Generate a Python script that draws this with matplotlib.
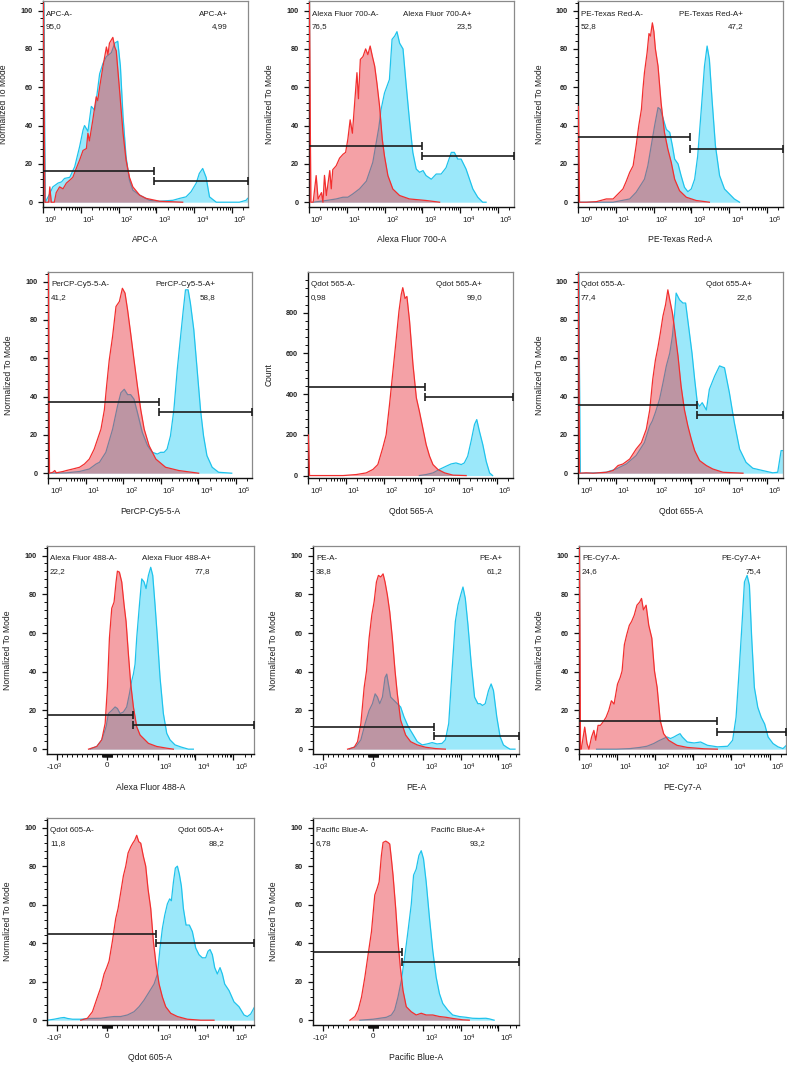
import numpy as np
import matplotlib
matplotlib.use("Agg")
import matplotlib.pyplot as plt
from matplotlib import transforms

plt.rcParams['font.family'] = ['Liberation Sans', 'DejaVu Sans']
plt.rcParams['mathtext.fontset'] = 'custom'
plt.rcParams['mathtext.rm'] = 'Liberation Sans'
plt.rcParams['mathtext.it'] = 'Liberation Sans:italic'
plt.rcParams['mathtext.bf'] = 'Liberation Sans:bold'

# ---------------- data (log panels: x given as log10 of intensity) ----------------
apc_red_log = [0.0, 0.01, 0.05, 0.15, 0.18, 0.22, 0.30, 0.35, 0.44, 0.53, 0.62, 0.71, 0.79, 0.88, 0.97, 1.06, 1.15, 1.19, 1.23, 1.32, 1.41, 1.45, 1.50, 1.59, 1.68, 1.72, 1.76, 1.85, 1.90, 1.94, 2.03, 2.12, 2.20, 2.29, 2.38, 2.56, 2.73, 3.09, 3.70]
apc_red_y = [104, 104, 0, 0, 8, 0, 0, 5, 8, 7, 10, 11.5, 13, 17.6, 22, 27, 28, 36, 32, 43, 55, 53, 60, 71, 81, 77, 83, 86, 81, 79, 58, 36, 22, 13, 8, 3.7, 2, 0.5, 0]
apc_blue_log = [0.0, 0.02, 0.06, 0.18, 0.26, 0.40, 0.49, 0.57, 0.71, 0.84, 0.97, 1.06, 1.10, 1.19, 1.28, 1.37, 1.41, 1.50, 1.59, 1.68, 1.81, 1.90, 1.98, 2.05, 2.12, 2.20, 2.29, 2.38, 2.56, 2.82, 3.09, 3.44, 3.62, 3.79, 3.92, 4.06, 4.14, 4.23, 4.32, 4.41, 4.59, 5.20, 5.38, 5.42]
apc_blue_y = [104, 104, 0, 4.5, 8, 10, 10.6, 12.4, 13, 18.5, 29, 37.6, 40, 37, 50, 48, 53, 67, 72.5, 76, 78, 83, 84, 71, 44.6, 23.7, 11.5, 6.3, 3.7, 1, 0.5, 1, 2, 2.8, 5.4, 10, 15, 17.6, 13, 2.8, 0, 0, 1, 2]

a700_red_log = [0.0, 0.01, 0.05, 0.11, 0.19, 0.24, 0.33, 0.37, 0.41, 0.46, 0.55, 0.59, 0.63, 0.72, 0.81, 0.90, 0.97, 1.03, 1.09, 1.15, 1.21, 1.27, 1.31, 1.36, 1.43, 1.50, 1.56, 1.62, 1.68, 1.74, 1.80, 1.87, 1.94, 2.00, 2.09, 2.22, 2.40, 2.66, 3.10, 3.46]
a700_red_y = [104, 104, 0, 0, 13.9, 1.7, 5, 0, 14, 3.5, 16.5, 7, 17, 19, 23, 25, 26, 33, 43, 36, 52, 67.6, 54, 74.5, 76, 80, 77, 81.5, 76, 71, 62, 50, 33, 24, 13.9, 6.9, 3.5, 1.7, 0.9, 0]
a700_blue_log = [0.11, 0.46, 0.72, 0.90, 1.03, 1.16, 1.34, 1.52, 1.69, 1.78, 1.85, 1.91, 2.00, 2.13, 2.20, 2.27, 2.33, 2.40, 2.49, 2.57, 2.66, 2.75, 2.84, 2.93, 3.02, 3.10, 3.24, 3.37, 3.50, 3.63, 3.77, 3.85, 3.94, 4.03, 4.16, 4.34, 4.47, 4.60, 4.69]
a700_blue_y = [0, 0.9, 1.7, 2.6, 2.6, 4.3, 7, 11, 20.8, 31, 39, 48.5, 57, 64, 85, 86.7, 89, 83, 80, 62, 43, 26, 17.3, 15.6, 16.5, 13.9, 12, 14.7, 14.7, 18, 26, 26, 22.5, 22.5, 17.3, 6.9, 2.6, 0, 0]

petr_red_log = [0.0, 0.01, 0.04, 0.09, 0.22, 0.49, 0.75, 0.93, 1.06, 1.19, 1.28, 1.37, 1.46, 1.54, 1.61, 1.68, 1.72, 1.76, 1.83, 1.88, 1.92, 1.97, 2.01, 2.05, 2.12, 2.20, 2.29, 2.38, 2.47, 2.56, 2.69, 2.87, 3.13, 3.48]
petr_red_y = [50, 50, 0, 0, 0, 0.3, 1.7, 1.7, 4.3, 6.9, 11, 15.6, 19, 29.5, 40, 48.5, 59, 67.6, 78, 88, 86.7, 93.6, 89, 80, 71, 52, 36.4, 27.7, 20.8, 12, 6, 2.6, 0.9, 0]
petr_blue_log = [0.0, 0.01, 0.04, 0.93, 1.37, 1.54, 1.68, 1.76, 1.85, 1.94, 2.03, 2.12, 2.18, 2.25, 2.34, 2.43, 2.50, 2.56, 2.65, 2.73, 2.82, 2.91, 3.00, 3.09, 3.17, 3.26, 3.35, 3.42, 3.48, 3.55, 3.64, 3.75, 3.88, 4.01, 4.14, 4.28]
petr_blue_y = [4, 4, 0, 0, 1.7, 5.2, 9.5, 12, 19, 29.5, 40, 49.4, 48.5, 44, 38, 36.4, 29.5, 22.5, 20, 13.9, 7.8, 5.5, 6.9, 12, 24, 47, 71, 81.5, 74.5, 53.7, 29.5, 13.9, 6.9, 4.3, 1.7, 0]

percp_red_log = [0.0, 0.01, 0.04, 0.13, 0.18, 0.22, 0.40, 0.49, 0.66, 0.84, 0.97, 1.10, 1.23, 1.32, 1.41, 1.50, 1.56, 1.63, 1.72, 1.81, 1.90, 1.98, 2.05, 2.12, 2.20, 2.29, 2.38, 2.47, 2.56, 2.69, 2.87, 3.13, 3.48, 4.01]
percp_red_y = [104, 104, 0, 0.5, 1.4, 0.2, 0.9, 1.4, 2.2, 3.1, 4.8, 7.4, 12.6, 17.8, 23, 33, 45.5, 59, 71.5, 87, 89.6, 96.5, 94, 85, 73, 59, 45.5, 33, 23, 14.4, 7.4, 3.1, 1.4, 0]
percp_blue_log = [0.0, 0.01, 0.04, 0.49, 0.84, 1.10, 1.28, 1.37, 1.54, 1.72, 1.85, 1.94, 2.03, 2.12, 2.20, 2.29, 2.38, 2.51, 2.65, 2.78, 2.91, 3.00, 3.09, 3.17, 3.26, 3.35, 3.44, 3.53, 3.60, 3.66, 3.73, 3.79, 3.88, 3.97, 4.06, 4.14, 4.23, 4.37, 4.54, 4.89]
percp_blue_y = [6, 6, 0, 0.2, 0.9, 2.2, 4.8, 5.7, 10.9, 23, 35, 42, 43.8, 41, 41, 38.6, 31.7, 21.3, 14.4, 10.9, 10, 10.9, 10.9, 12.6, 19.5, 33, 54, 71.5, 85, 95.7, 95.7, 88.8, 75, 54, 33, 19.5, 9.2, 3.1, 0.5, 0]

q565_red_log = [0.0, 0.01, 0.04, 0.93, 1.28, 1.54, 1.72, 1.85, 1.98, 2.07, 2.16, 2.25, 2.34, 2.41, 2.47, 2.51, 2.57, 2.62, 2.69, 2.78, 2.87, 2.95, 3.04, 3.13, 3.22, 3.31, 3.44, 3.62, 3.84, 4.19]
q565_red_y = [200, 200, 0, 0, 5, 13, 30, 54, 136, 200, 350, 513, 677, 808, 890, 923, 870, 880, 759, 546, 382, 316, 234, 152, 95, 54, 30, 13, 2, 0]
q565_blue_log = [2.95, 3.13, 3.31, 3.48, 3.66, 3.79, 3.92, 4.06, 4.14, 4.23, 4.32, 4.41, 4.47, 4.54, 4.63, 4.72, 4.81, 4.89]
q565_blue_y = [0, 5, 13, 30, 46, 57, 62, 54, 62, 95, 169, 251, 275, 218, 152, 70, 13, 0]

q655_red_log = [0.0, 0.01, 0.04, 0.22, 0.40, 0.75, 0.93, 1.06, 1.19, 1.37, 1.54, 1.68, 1.81, 1.90, 1.98, 2.05, 2.12, 2.18, 2.25, 2.32, 2.38, 2.43, 2.50, 2.56, 2.65, 2.73, 2.82, 2.91, 3.00, 3.09, 3.22, 3.40, 3.57, 3.84, 4.37]
q655_red_y = [104, 104, 0, 0.2, 0, 0.5, 1.4, 4, 4.8, 7.4, 12.6, 16, 23, 33, 49, 59, 66, 73, 82, 88, 95.7, 90.5, 83.7, 75, 61, 45.5, 33, 24.7, 17.8, 11.8, 6.6, 4, 2.2, 0.5, 0]
q655_blue_log = [0.0, 0.02, 0.06, 0.13, 0.49, 0.75, 1.01, 1.28, 1.54, 1.76, 1.90, 1.97, 2.05, 2.16, 2.25, 2.34, 2.43, 2.50, 2.56, 2.60, 2.69, 2.78, 2.85, 2.94, 3.02, 3.09, 3.16, 3.22, 3.29, 3.40, 3.48, 3.62, 3.75, 3.88, 4.01, 4.14, 4.28, 4.45, 4.63, 4.89, 5.16, 5.29, 5.38, 5.42]
q655_blue_y = [104, 104, 0, 0, 0.2, 0.5, 2.2, 4.8, 9.2, 16, 24.7, 27.3, 31.7, 38.6, 47, 56, 62.6, 71.5, 83.7, 94, 90.5, 88.8, 88.8, 75, 62.6, 49, 36.8, 35, 36.8, 33, 43.8, 50.7, 56, 55, 42, 26.5, 12.6, 5.7, 2.6, 1.4, 0.2, 0.5, 11.8, 11.8]

pecy7_red_log = [0.0, 0.01, 0.04, 0.06, 0.15, 0.21, 0.26, 0.33, 0.39, 0.44, 0.50, 0.56, 0.63, 0.71, 0.78, 0.85, 0.92, 1.01, 1.08, 1.13, 1.19, 1.25, 1.32, 1.38, 1.45, 1.52, 1.59, 1.64, 1.69, 1.76, 1.83, 1.91, 1.98, 2.05, 2.13, 2.22, 2.35, 2.57, 2.84, 3.28, 3.63]
pecy7_red_y = [104, 104, 0, 0, 11.4, 2.9, 0, 6.3, 9.7, 4.6, 12.3, 12.3, 14, 16.5, 20, 25, 23.3, 33.6, 37, 40.4, 54, 59, 64, 66, 69.3, 74.4, 76, 77.9, 72, 74.4, 64, 57.4, 40.4, 31.9, 14.8, 8, 4.6, 2, 0.9, 0.2, 0]
pecy7_blue_log = [0.46, 0.99, 1.34, 1.60, 1.78, 1.96, 2.09, 2.22, 2.31, 2.40, 2.49, 2.57, 2.65, 2.71, 2.84, 3.02, 3.19, 3.37, 3.63, 3.90, 4.03, 4.12, 4.20, 4.28, 4.34, 4.41, 4.47, 4.53, 4.60, 4.69, 4.78, 4.87, 4.96, 5.09, 5.22, 5.35, 5.44]
pecy7_blue_y = [0, 0, 0.3, 0.9, 1.5, 2.9, 4.3, 5.5, 6.3, 5.5, 6.3, 7.2, 8, 6.3, 3.7, 3.2, 3.7, 2, 1.2, 1.5, 4.6, 16.5, 40.4, 66, 86.4, 89.8, 84.7, 57.4, 31.9, 21.6, 16.5, 13, 6.3, 2.9, 1.2, 0.3, 2]

# ---------------- data (biexponential panels: x in intensity units) ----------------
a488_red_x = [-376, -211, -113, -45, 0, 40, 86, 132, 172, 199, 238, 285, 332, 371, 418, 464, 517, 583, 650, 716, 816, 981, 1738, 2606]
a488_red_y = [0, 1.4, 4.8, 13.3, 32, 57.5, 72.8, 76, 86.4, 92, 91.5, 86.4, 74.5, 66, 49, 33.7, 21.8, 11.6, 7.3, 5.6, 3, 1.4, 0.5, 0]
a488_blue_x = [-345, -212, -113, -26, 20, 86, 153, 199, 252, 318, 384, 438, 484, 517, 550, 583, 637, 683, 729, 769, 816, 862, 902, 948, 995, 1156, 1416, 1738, 2128, 2884, 4325, 6500, 8810]
a488_blue_y = [0, 1.4, 4.8, 11.6, 18.4, 20, 21.8, 21, 18.4, 19.2, 21.8, 28.6, 35.4, 38.8, 43.9, 57.5, 74.5, 88, 86.4, 83, 89.8, 94, 89.8, 74.5, 57.5, 37, 18.4, 8.2, 4.8, 2.2, 1, 0, 0]

pe_red_x = [-511, -378, -311, -245, -179, -132, -80, -26, 20, 66, 106, 153, 199, 238, 285, 332, 384, 438, 484, 550, 650, 749, 882, 1156, 2128, 3908]
pe_red_y = [0, 1, 3.9, 13.3, 32, 40.5, 57.5, 69.4, 76.2, 86.4, 89.8, 89, 90.6, 86.4, 79.6, 71, 57.5, 40.5, 28.6, 15, 7.3, 3.9, 2.2, 1, 0.3, 0]
pe_blue_x = [-477, -345, -245, -159, -80, -14, 40, 86, 132, 186, 238, 272, 305, 351, 418, 484, 550, 617, 703, 783, 882, 981, 1279, 1738, 2355, 3192, 3908, 4797, 5875, 7194, 8472, 9954, 11482, 13243, 15560, 19055, 23336, 28642, 32961, 38019, 44771, 54828, 64417, 74302, 90991, 111429, 136773, 167494, 205116, 277971]
pe_blue_y = [0, 1.4, 4.8, 13.3, 20, 23.5, 28.6, 26.9, 23.5, 26.9, 37, 38.8, 33.7, 26.9, 25.2, 23.5, 21.8, 16.7, 11.6, 8.2, 3.9, 2.2, 2.7, 3.4, 2.7, 3, 4.8, 13.3, 40.5, 66, 74.5, 79.6, 83.8, 77.9, 64.3, 43.9, 26.9, 23.5, 23.5, 22.6, 23.5, 30.3, 33.7, 30.3, 16.7, 6.5, 2.2, 1, 0, 0]

q605_red_x = [-530, -398, -298, -199, -132, -66, -14, 33, 99, 165, 212, 265, 318, 365, 411, 464, 504, 544, 583, 623, 663, 716, 762, 809, 862, 915, 968, 1089, 1334, 1633, 2213, 3327, 6109, 13772, 31046]
q605_red_y = [0, 1, 4.4, 12, 17, 24, 27.3, 30.7, 41, 52.8, 58, 66.4, 75, 80, 86.8, 90, 91.9, 93.5, 96, 92.7, 91.9, 85, 80, 68, 58, 41, 29, 18.8, 12, 7, 3.6, 1.9, 0.5, 0, 0]
q605_blue_x = [-1807, -1205, -929, -862, -795, -696, -530, -332, -132, 0, 132, 265, 398, 530, 630, 729, 829, 929, 995, 1156, 1334, 1538, 1807, 2084, 2307, 2606, 2944, 3327, 3758, 4246, 4797, 5636, 6902, 8299, 10162, 12445, 15241, 18664, 21528, 24322, 28054, 32359, 38019, 44771, 51523, 59429, 77446, 104954, 142233, 193197, 236592, 289734, 369828]
q605_blue_y = [0, 0.5, 1.2, 1.4, 0.9, 0.5, 0.5, 0.9, 1, 1.5, 1.9, 1.9, 2.7, 4.4, 7, 10.4, 14.6, 18.8, 24, 37.5, 47.7, 54.5, 60.4, 63, 62, 71.5, 79, 80, 75.7, 69.6, 58, 49.4, 49.4, 46, 37.5, 34, 32.4, 32.4, 35.8, 36.7, 34, 27.3, 24, 27.3, 24, 18.8, 15.4, 9.5, 7, 2.7, 1.9, 3.2, 7]

pb_red_x = [-464, -365, -298, -232, -165, -99, -33, 33, 80, 120, 165, 199, 252, 298, 332, 365, 398, 451, 497, 544, 597, 663, 762, 862, 962, 1205, 1807, 2716, 4074, 6109, 11246, 16866]
pb_red_y = [0, 1.9, 5.3, 12, 22.4, 34.3, 46, 65, 68.4, 71.8, 85.5, 92.3, 93, 92.3, 91.5, 83.8, 75.3, 58.2, 41, 27.5, 15.5, 7, 4.4, 2.7, 3.6, 2.7, 2.7, 1.9, 1.5, 0.9, 0.2, 0]
pb_blue_x = [-265, 0, 132, 265, 365, 431, 497, 564, 630, 696, 762, 809, 862, 915, 962, 1023, 1205, 1476, 1807, 2218, 2716, 3327, 4508, 6109, 9183, 13772, 20654, 31046, 46559, 57016, 77446]
pb_blue_y = [0, 0.5, 1, 1.5, 2.7, 5.3, 12, 20.6, 32.6, 46, 60, 75.3, 78.5, 85.5, 88, 83.8, 71.8, 53, 36, 22.4, 13.8, 8.7, 5.3, 2.7, 1.9, 1.5, 1, 0.9, 1, 0.7, 0]

# channel names, gate percentages, gate boundaries
channels = ["APC-A", "Alexa Fluor 700-A", "PE-Texas Red-A", "PerCP-Cy5-5-A", "Qdot 565-A",
            "Qdot 655-A", "Alexa Fluor 488-A", "PE-A", "PE-Cy7-A", "Qdot 605-A", "Pacific Blue-A"]
pct_neg = ["95,0", "76,5", "52,8", "41,2", "0,98", "77,4", "22,2", "38,8", "24,6", "11,8", "6,78"]
pct_pos = ["4,99", "23,5", "47,2", "58,8", "99,0", "22,6", "77,8", "61,2", "75,4", "88,2", "93,2"]
gate_split = [10**2.93, 10**3.0, 10**2.96, 10**2.95, 10**3.09, 10**3.15, 504, 2000, 10**3.62, 968, 583]
gate_neg_level = [16.2, 29.5, 33.8, 37.4, 436, 35.5, 17.9, 11.6, 14.8, 44.7, 35.5]
gate_pos_level = [11.0, 24.3, 28.0, 32.0, 385, 30.3, 12.4, 6.8, 8.9, 40.1, 30.0]
y_labels = ["Normalized To Mode"] * 4 + ["Count"] + ["Normalized To Mode"] * 6
axis_type = ["log"] * 6 + ["biex", "biex", "log", "biex", "biex"]

curves = [
    (apc_red_log, apc_red_y, apc_blue_log, apc_blue_y),
    (a700_red_log, a700_red_y, a700_blue_log, a700_blue_y),
    (petr_red_log, petr_red_y, petr_blue_log, petr_blue_y),
    (percp_red_log, percp_red_y, percp_blue_log, percp_blue_y),
    (q565_red_log, q565_red_y, q565_blue_log, q565_blue_y),
    (q655_red_log, q655_red_y, q655_blue_log, q655_blue_y),
    (a488_red_x, a488_red_y, a488_blue_x, a488_blue_y),
    (pe_red_x, pe_red_y, pe_blue_x, pe_blue_y),
    (pecy7_red_log, pecy7_red_y, pecy7_blue_log, pecy7_blue_y),
    (q605_red_x, q605_red_y, q605_blue_x, q605_blue_y),
    (pb_red_x, pb_red_y, pb_blue_x, pb_blue_y),
]

# ---------------- layout (pixels: left, top, right, bottom) ----------------
W, H = 787, 1066
rects = [(43, 1, 248, 207), (309, 1, 514, 207), (578, 1, 783, 207),
         (48, 272, 252, 478), (308, 272, 513, 478), (578, 272, 783, 478),
         (47, 546, 254, 754), (313, 546, 519, 754), (579, 546, 786, 754),
         (47, 818, 254, 1025), (313, 818, 519, 1025)]
right_label_frac = [0.90, 0.795, 0.805, 0.82, 0.85, 0.85, 0.79, 0.92, 0.88, 0.855, 0.835]

RED_LINE = '#F22F2F'
RED_FILL = '#E8303A'
BLUE_LINE = '#1FC3EC'
BLUE_FILL = '#22CCF5'
GATE = '#1c1c1c'
TXT = '#1e1e1e'

fig = plt.figure(figsize=(W / 100, H / 100), dpi=100)

LOG_MAX = 10 ** 5.43
BIEX_LIM = (-1860, 355000)

for i in range(11):
    l, t, r, b = rects[i]
    wpx, hpx = r - l, b - t
    ax = fig.add_axes([l / W, 1 - b / H, wpx / W, hpx / H])
    rx, ry, bx, by = curves[i]
    assert len(rx) == len(ry) and len(bx) == len(by), channels[i]
    if axis_type[i] == "log":
        rx = 10 ** np.array(rx, dtype=float)
        bx = 10 ** np.array(bx, dtype=float)
        ax.set_xscale('log')
        ax.set_xlim(1, LOG_MAX)
        majors = [10 ** n for n in range(0, 6)]
        labels = ['10$^{%d}$' % n for n in range(0, 6)]
        dxs = [1.5] * 6
        has = ['left'] * 6
        minors = [k * 10 ** n for n in range(0, 6) for k in range(2, 10) if k * 10 ** n < LOG_MAX]
    else:
        rx = np.array(rx, dtype=float)
        bx = np.array(bx, dtype=float)
        ax.set_xscale('symlog', linthresh=1000, linscale=1.197)
        ax.set_xlim(*BIEX_LIM)
        majors = [-1000, 0, 1000, 10000, 100000]
        labels = ['-10$^{3}$', '0', '10$^{3}$', '10$^{4}$', '10$^{5}$']
        dxs = [-3, 0, 1.5, 1.5, 1.5]
        has = ['center', 'center', 'left', 'left', 'left']
        minors = ([-v for v in range(100, 1000, 100)] + [-v for v in range(10, 100, 10)] +
                  list(range(10, 100, 10)) + list(range(100, 1000, 100)) +
                  [k * 10 ** n for n in (3, 4) for k in range(2, 10)] + [200000, 300000])
    ylim = (-12, 1000) if y_labels[i] == "Count" else (-2.5, 105)
    ax.set_ylim(*ylim)

    ry = np.array(ry, dtype=float)
    by = np.array(by, dtype=float)
    ax.fill_between(bx, by, 0, color=BLUE_FILL, alpha=0.45, lw=0, zorder=1)
    ax.plot(bx, by, color=BLUE_LINE, lw=0.9, zorder=2)
    ax.fill_between(rx, ry, 0, color=RED_FILL, alpha=0.45, lw=0, zorder=3)
    ax.plot(rx, ry, color=RED_LINE, lw=0.9, zorder=4)

    # ticks
    ax.set_xticks(majors)
    ax.set_xticks(minors, minor=True)
    ax.tick_params(axis='x', which='major', direction='out', length=4, width=0.9,
                   labelbottom=False, color='#111')
    ax.tick_params(axis='x', which='minor', direction='out', length=2, width=0.7, color='#111')
    if y_labels[i] == "Count":
        ax.set_yticks([0, 200, 400, 600, 800])
        ax.set_yticks(np.arange(0, 1000, 40), minor=True)
    else:
        ax.set_yticks([0, 20, 40, 60, 80, 100])
        ax.set_yticks(np.arange(0, 105, 4), minor=True)
    ax.tick_params(axis='y', which='major', direction='out', length=3.5, width=0.9,
                   pad=4, labelsize=5.2, color='#111')
    ax.tick_params(axis='y', which='minor', direction='out', length=2, width=0.7, color='#111')
    for lab in ax.get_yticklabels():
        lab.set_fontweight('bold')
        lab.set_color('#222')

    # manual x tick labels
    base = transforms.blended_transform_factory(ax.transData, ax.transAxes)
    for xv, lab, dx, ha in zip(majors, labels, dxs, has):
        tr = transforms.offset_copy(base, fig=fig, x=dx * 0.72, y=-8 * 0.72, units='points')
        ax.text(xv, 0, lab, transform=tr, ha=ha, va='top', fontsize=5.8, color=TXT)

    for side in ['top', 'right']:
        ax.spines[side].set_color('#8a8a8a')
        ax.spines[side].set_linewidth(0.9)
    for side in ['left', 'bottom']:
        ax.spines[side].set_color('#111')
        ax.spines[side].set_linewidth(1.0)

    # gates
    xl, xr = ax.get_xlim()
    gx = gate_split[i]
    g1, g2 = gate_neg_level[i], gate_pos_level[i]
    ax.plot([xl, gx], [g1, g1], color=GATE, lw=1.2, solid_capstyle='butt', zorder=6, clip_on=False)
    ax.plot([gx], [g1], marker='|', ms=6, mew=1.2, color=GATE, zorder=6, clip_on=False)
    ax.plot([gx, xr], [g2, g2], color=GATE, lw=1.2, solid_capstyle='butt', zorder=6, clip_on=False)
    ax.plot([gx, xr], [g2, g2], ls='none', marker='|', ms=6, mew=1.2, color=GATE, zorder=6, clip_on=False)

    # gate texts
    fs = 5.8
    ax.text(3 / wpx, 1 - 13 / hpx, channels[i] + "-", transform=ax.transAxes, ha='left', va='center', fontsize=fs, color=TXT)
    ax.text(3 / wpx, 1 - 26 / hpx, pct_neg[i], transform=ax.transAxes, ha='left', va='center', fontsize=fs, color=TXT)
    ax.text(right_label_frac[i], 1 - 13 / hpx, channels[i] + "+", transform=ax.transAxes, ha='right', va='center', fontsize=fs, color=TXT)
    ax.text(right_label_frac[i], 1 - 26 / hpx, pct_pos[i], transform=ax.transAxes, ha='right', va='center', fontsize=fs, color=TXT)

    # axis titles
    ax.text(0.5, -33 / hpx, channels[i], transform=ax.transAxes, ha='center', va='center', fontsize=6.2, color=TXT)
    ax.text(-39 / wpx, 0.5, y_labels[i], transform=ax.transAxes, rotation=90, ha='center', va='center', fontsize=6.2, color=TXT)

fig.savefig("out.png", dpi=100)
